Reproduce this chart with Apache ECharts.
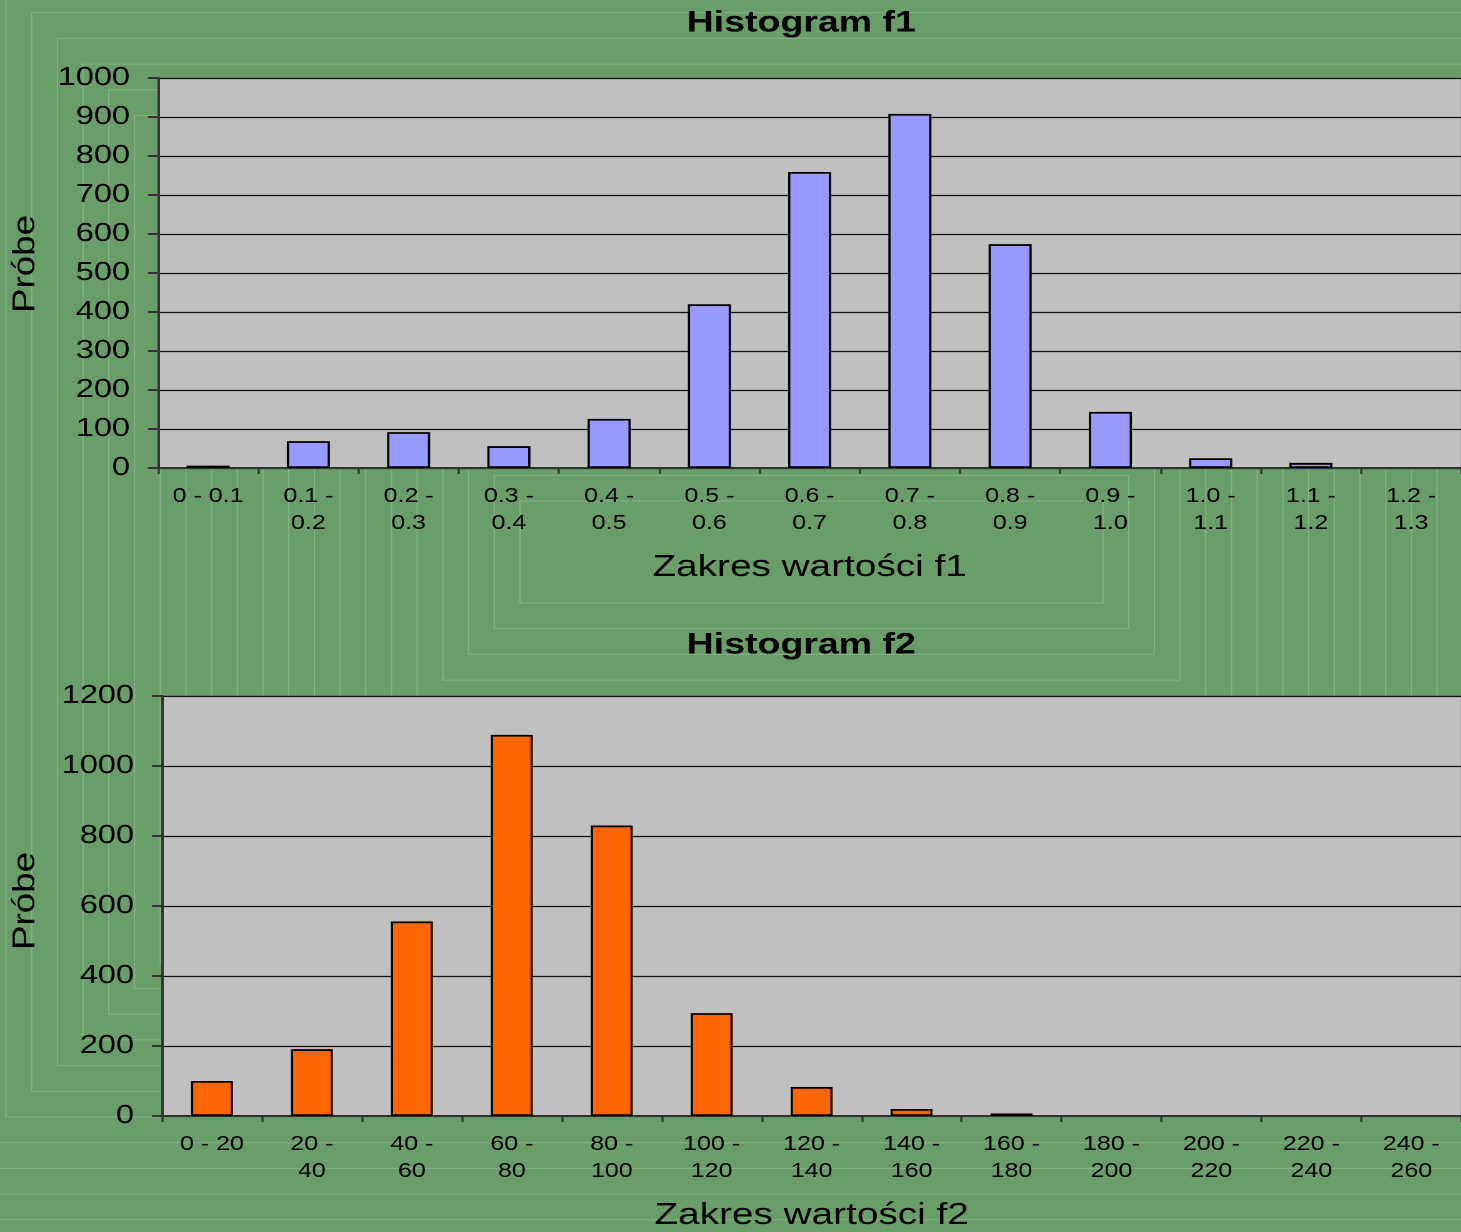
<!DOCTYPE html>
<html>
<head>
<meta charset="utf-8">
<script src="https://cdn.jsdelivr.net/npm/echarts@6/dist/echarts.min.js"></script>
<style>
  html, body { margin: 0; padding: 0; overflow: hidden; }
  /* the source picture is stretched sideways, so draw narrow and widen */
  #main { width: 1169px; height: 1232px; transform: scaleX(1.25); transform-origin: 0 0; }
</style>
</head>
<body>
<div id="main"></div>
<script>
// histogram f1
const f1Ranges = ['0 - 0.1', '0.1 -\n0.2', '0.2 -\n0.3', '0.3 -\n0.4', '0.4 -\n0.5', '0.5 -\n0.6', '0.6 -\n0.7',
    '0.7 -\n0.8', '0.8 -\n0.9', '0.9 -\n1.0', '1.0 -\n1.1', '1.1 -\n1.2', '1.2 -\n1.3'];
const f1Counts = [6, 69, 92, 56, 126, 420, 759, 908, 574, 144, 25, 13, 0];

// histogram f2
const f2Ranges = ['0 - 20', '20 -\n40', '40 -\n60', '60 -\n80', '80 -\n100', '100 -\n120', '120 -\n140',
    '140 -\n160', '160 -\n180', '180 -\n200', '200 -\n220', '220 -\n240', '240 -\n260'];
const f2Counts = [100, 191, 556, 1089, 830, 294, 83, 20, 7, 0, 0, 0, 0];

const S = 1.25;
const px = v => v / S;
const fontFam = '"Liberation Sans", Arial, sans-serif';

let myChart = echarts.init(document.getElementById('main'), null, {devicePixelRatio: 2});

// nested faint rectangles of the slide background
let graphics = [];
for (let k = 24; k >= 0; k--) {
    const x0 = 520 - 25.7 * k, x1 = 1103 + 25.7 * k;
    const y0 = 501 - 25.7 * k, y1 = 603 + 25.7 * k;
    graphics.push({
        type: 'rect', silent: true, z: -1,
        shape: {x: px(x0), y: y0, width: px(x1 - x0), height: y1 - y0},
        style: {fill: 'rgba(140,205,130,0.021)', stroke: 'rgba(255,255,255,0.2)', lineWidth: 1}
    });
}

// y axis names (rotated)
[264, 901].forEach(cy => {
    graphics.push({
        type: 'text', silent: true,
        x: px(26), y: cy, rotation: Math.PI / 2, scaleX: 1.47, scaleY: 1,
        style: {text: 'Próbe', font: '25px ' + fontFam, fill: '#000', align: 'center', verticalAlign: 'middle'}
    });
});

function yAxisCfg(gridIndex, max, interval) {
    return {
        type: 'value',
        gridIndex: gridIndex,
        min: 0, max: max, interval: interval,
        axisLine: {show: true, lineStyle: {color: '#333', width: 2}},
        axisTick: {show: true, length: px(10), lineStyle: {color: '#333', width: 2}},
        axisLabel: {fontFamily: fontFam, fontSize: 26, color: '#000', margin: px(28), formatter: v => String(v)},
        splitLine: {show: true, lineStyle: {color: '#111', width: 1.3}}
    };
}

function xAxisCfg(gridIndex, cats, name) {
    return {
        type: 'category',
        gridIndex: gridIndex,
        data: cats,
        name: name,
        nameLocation: 'middle',
        nameGap: 84,
        nameTextStyle: {fontFamily: fontFam, fontSize: 31, color: '#000'},
        axisLine: {show: true, lineStyle: {color: '#333', width: 2}},
        axisTick: {show: true, length: 6, lineStyle: {color: '#333', width: 1.6}},
        axisLabel: {fontFamily: fontFam, fontSize: 20, color: '#000', margin: 15, lineHeight: 27, interval: 0}
    };
}

let option = {
    backgroundColor: '#6a9e68',
    animation: false,
    graphic: graphics,
    title: [
        {text: 'Histogram f1', left: px(795), top: 3, textAlign: 'center',
            textStyle: {fontFamily: fontFam, fontSize: 30, fontWeight: 'bold', color: '#000'}},
        {text: 'Histogram f2', left: px(795), top: 625, textAlign: 'center',
            textStyle: {fontFamily: fontFam, fontSize: 30, fontWeight: 'bold', color: '#000'}}
    ],
    grid: [
        {left: px(158), top: 78, width: px(1306), height: 390, show: true,
            backgroundColor: '#c0c0c0', borderColor: '#777', borderWidth: 1},
        {left: px(162), top: 696, width: px(1313), height: 421, show: true,
            backgroundColor: '#c0c0c0', borderColor: '#777', borderWidth: 1}
    ],
    xAxis: [
        xAxisCfg(0, f1Ranges, 'Zakres wartości f1'),
        xAxisCfg(1, f2Ranges, 'Zakres wartości f2')
    ],
    yAxis: [
        yAxisCfg(0, 1000, 100),
        yAxisCfg(1, 1200, 200)
    ],
    series: [
        {
            type: 'bar', xAxisIndex: 0, yAxisIndex: 0,
            data: f1Counts.map(v => v === 0 ? '-' : v),
            barWidth: '43%',
            itemStyle: {color: '#9999ff', borderColor: '#000', borderWidth: 1.8}
        },
        {
            type: 'bar', xAxisIndex: 1, yAxisIndex: 1,
            data: f2Counts.map(v => v === 0 ? '-' : v),
            barWidth: '42%',
            itemStyle: {color: '#ff6600', borderColor: '#000', borderWidth: 1.8}
        }
    ]
};
myChart.setOption(option);
</script>
</body>
</html>
